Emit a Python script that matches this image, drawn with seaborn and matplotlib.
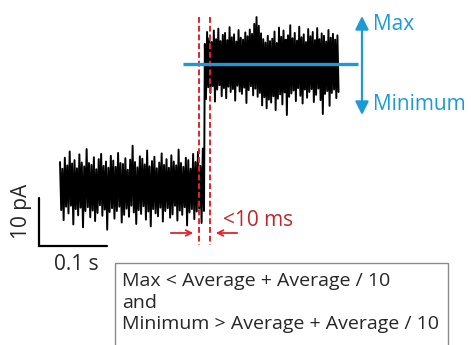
"""
Single-channel trace with step, Max/Minimum criterion annotation
"""

import matplotlib.pyplot as plt
import numpy as np
import seaborn as sns

# levels (pA) of the two states and their start/end times (s)
level_low = 0.0
level_high = 25.8
t_low = (0.0, 0.210)
t_high = (0.213, 0.408)

# per-sample upper / lower excursion (pA)
up_low = [5.2, 3.8, 6.1, 4.5, 7.4, 4.9, 5.6, 3.9, 6.8, 5.1, 4.3, 7.9, 5.0, 4.6, 6.2,
          3.7, 5.8, 6.9, 4.4, 5.3, 4.0, 6.5, 5.5, 4.2, 7.1, 5.0, 4.8, 6.0, 3.6, 5.7,
          8.6, 5.2, 4.1, 6.4, 5.9, 4.7, 7.6, 4.3, 5.4, 6.3, 3.9, 5.1, 7.0, 4.6, 5.8,
          4.0, 6.6, 5.3, 4.5, 7.8, 5.0, 4.2, 6.1, 5.6, 3.8, 6.9, 5.2, 7.3, 4.4, 8.0]
dn_low = [-4.8, -6.9, -4.1, -5.5, -3.9, -7.8, -4.6, -5.9, -4.3, -8.4, -5.0, -4.2, -6.3, -4.9, -7.1,
          -5.4, -3.8, -6.0, -4.7, -8.9, -5.2, -4.4, -6.6, -5.0, -4.1, -7.4, -5.8, -4.5, -6.2, -3.9,
          -5.3, -7.7, -4.8, -5.6, -4.0, -6.8, -5.1, -8.2, -4.6, -5.5, -6.1, -4.3, -7.2, -5.0, -4.4,
          -6.4, -5.7, -3.9, -7.0, -4.9, -5.8, -4.2, -8.0, -5.3, -4.6, -6.7, -5.1, -4.5, -7.5, -5.0]
up_high = [4.0, 6.5, 5.2, 4.4, 6.8, 5.0, 7.2, 4.6, 5.9, 6.3, 4.8, 7.5, 5.4, 6.0, 4.5,
           6.9, 5.3, 4.9, 6.4, 5.6, 7.0, 6.1, 8.2, 9.6, 7.8, 6.2, 5.0, 4.3, 5.7, 4.6,
           5.1, 6.6, 4.2, 7.4, 5.5, 6.8, 4.9, 5.8, 7.9, 5.2, 6.3, 4.7, 7.6, 5.4, 6.0,
           4.4, 7.1, 5.6, 6.5, 4.8, 7.3, 5.0, 6.2, 5.7, 4.5, 6.9, 5.3, 6.1, 4.9, 5.8]
dn_high = [-7.5, -5.0, -6.2, -4.8, -8.0, -5.5, -4.6, -6.9, -5.2, -7.3, -4.9, -6.0, -5.4, -7.8, -4.7,
           -5.9, -6.4, -5.1, -8.3, -5.6, -4.8, -6.7, -5.3, -7.0, -6.2, -8.8, -7.1, -9.4, -7.6, -8.2,
           -6.9, -9.8, -7.4, -6.5, -8.6, -6.1, -10.8, -7.0, -6.3, -5.7, -7.9, -5.2, -6.8, -8.4, -5.5,
           -7.2, -6.0, -5.4, -8.1, -6.6, -5.3, -7.7, -10.6, -6.4, -5.8, -8.9, -6.2, -5.5, -7.3, -6.0]

# scale bar
bar_t = 0.1
bar_pa = 10

box_lines = ['Max < Average + Average / 10', 'and', 'Minimum > Average + Average / 10']

W, H = 471, 345
PX_S = 680.0   # pixels per second
PX_PA = 4.8    # pixels per pA
X0, Y0 = 60, 187

BLUE = '#1d9ad6'
RED = '#e4222a'
DRED = '#c0262c'


def zigzag(t_range, level, up, dn):
    t = np.linspace(t_range[0], t_range[1], len(up))
    dt = (t[1] - t[0]) / 2
    x = np.ravel(np.column_stack([t, t + dt]))
    y = np.ravel(np.column_stack([level + np.array(up), level + np.array(dn)]))
    return x, y


sns.set_style('white')
plt.rcParams['font.family'] = ['Open Sans', 'DejaVu Sans']

fig = plt.figure(figsize=(W / 100, H / 100), dpi=100)
ax = fig.add_axes([0, 0, 1, 1])

x1, y1 = zigzag(t_low, level_low, up_low, dn_low)
x2, y2 = zigzag(t_high, level_high, up_high, dn_high)
tx = np.concatenate([x1, x2])
ty = np.concatenate([y1, y2])
sns.lineplot(x=tx, y=ty, sort=False, estimator=None, color='black', lw=1.4, ax=ax)

# scale bar
sb_t = -21 / PX_S
sb_y = -59 / PX_PA
ax.plot([sb_t, sb_t, sb_t + bar_t], [sb_y + bar_pa, sb_y, sb_y], color='black', lw=1.6,
        solid_joinstyle='miter')

ax.set_xlim(-X0 / PX_S, (W - X0) / PX_S)
ax.set_ylim(-(H - Y0) / PX_PA, Y0 / PX_PA)
ax.axis('off')

# overlay in pixel coordinates for annotations
ov = fig.add_axes([0, 0, 1, 1], zorder=3)
ov.set_xlim(0, W)
ov.set_ylim(H, 0)
ov.axis('off')

ov.text(22, 211, f'{bar_pa} pA', rotation=90, ha='center', va='center', fontsize=15)
ov.text(76, 265, f'{bar_t} s', ha='center', va='center', fontsize=15)

# 10 ms window
for xv in (199, 210):
    ov.plot([xv, xv], [17, 245], color=RED, lw=1.4, ls=(0, (3, 1.5)))
ov.annotate('', xy=(196, 233), xytext=(168, 233),
            arrowprops=dict(arrowstyle='->', color=RED, lw=1.3, mutation_scale=10))
ov.annotate('', xy=(213, 233), xytext=(240, 233),
            arrowprops=dict(arrowstyle='->', color=RED, lw=1.3, mutation_scale=10))
ov.text(223, 221, '<10 ms', color=DRED, fontsize=15, ha='left', va='center')

# average line and max/min arrow
ov.plot([183, 358], [64, 64], color=BLUE, lw=2.4, solid_capstyle='butt')
ov.annotate('', xy=(362, 16), xytext=(362, 115),
            arrowprops=dict(arrowstyle='<|-|>', color=BLUE, lw=1.6, mutation_scale=20,
                            shrinkA=0, shrinkB=0))
ov.text(373, 25, 'Max', color=BLUE, fontsize=15, ha='left', va='center')
ov.text(373, 105, 'Minimum', color=BLUE, fontsize=15, ha='left', va='center')

# criterion box
ov.add_patch(plt.Rectangle((115, 263), 333, 100, fill=False, ec='#8a8a8a', lw=1))
for i, line in enumerate(box_lines):
    ov.text(122, 281 + i * 21.5, line, fontsize=14, ha='left', va='center')

fig.savefig('out.png', dpi=100)
